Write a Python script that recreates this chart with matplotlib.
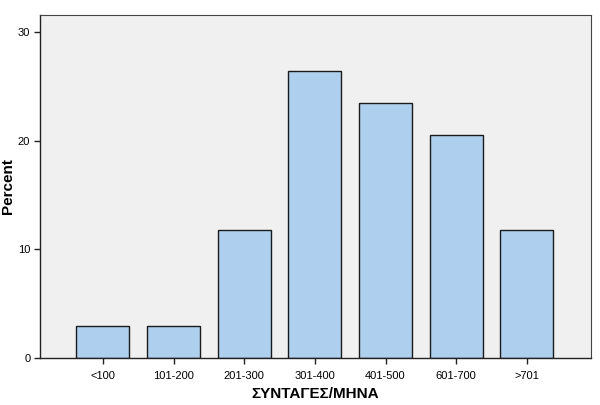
import numpy as np
import matplotlib
matplotlib.use('Agg')
import matplotlib.pyplot as plt

plt.rcParams['font.family'] = ['Liberation Sans', 'DejaVu Sans']

# Data
categories = ['<100', '101-200', '201-300', '301-400', '401-500', '601-700', '>701']
percent = [2.94, 2.94, 11.76, 26.47, 23.53, 20.59, 11.76]
y_ticks = [0, 10, 20, 30]

fig = plt.figure(figsize=(6, 4.05), dpi=100)
ax = fig.add_axes([0.0667, 0.116, 0.918, 0.847])
ax.set_facecolor('#F0F0F0')

x = np.arange(len(categories))
ax.bar(x, percent, width=0.75, color='#AED0EE', edgecolor='#1a1a1a', linewidth=1.0, zorder=2)

ax.set_xlim(-0.89, 6.906)
ax.set_ylim(0, 31.6)
ax.set_xticks(x)
ax.set_xticklabels(categories, fontsize=8)
ax.set_yticks(y_ticks)
ax.set_yticklabels([str(v) for v in y_ticks], fontsize=8)
ax.tick_params(axis='both', direction='out', length=4, width=1, color='#222222', pad=3)
ax.tick_params(axis='x', pad=5)

for side in ['left', 'bottom']:
    ax.spines[side].set_color('#222222')
    ax.spines[side].set_linewidth(1.0)
for side in ['top', 'right']:
    ax.spines[side].set_color('#444444')
    ax.spines[side].set_linewidth(0.8)

ax.set_xlabel('ΣΥΝΤΑΓΕΣ/ΜΗΝΑ', fontsize=11, fontweight='bold', labelpad=5)
ax.set_ylabel('Percent', fontsize=11, fontweight='bold')
ax.yaxis.set_label_coords(-0.045, 0.5)

fig.savefig('out.png', dpi=100)
